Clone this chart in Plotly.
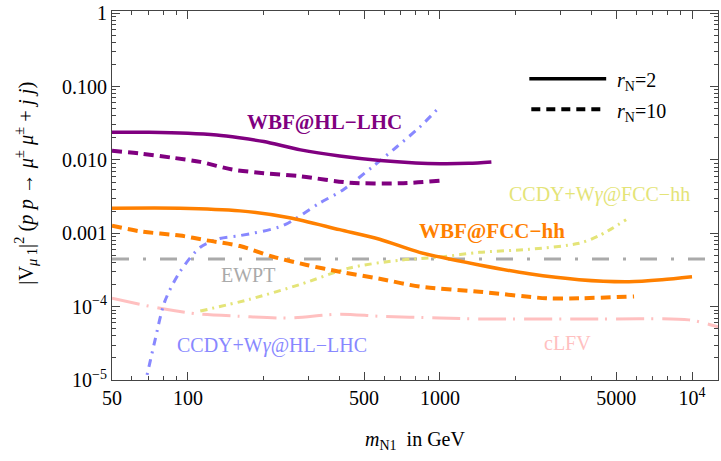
import math
import plotly.graph_objects as go

# --- data -----------------------------------------------------------------
# WBF @ HL-LHC
m_hl_r2 = [50, 70, 100, 130, 160, 200, 280, 400, 580, 800, 1000, 1300, 1600]
v_hl_r2 = [0.0239, 0.0238, 0.0231, 0.0218, 0.0200, 0.0178, 0.0137, 0.0113,
           0.0098, 0.0091, 0.0089, 0.0090, 0.0094]
m_hl_r10 = [50, 65, 87, 112, 150, 200, 278, 438, 692, 1000]
v_hl_r10 = [0.0133, 0.0122, 0.0107, 0.0094, 0.0074, 0.0066, 0.0060, 0.0049,
            0.0048, 0.0052]

# WBF @ FCC-hh
m_fcc_r2 = [50, 93, 161, 253, 400, 576, 830, 1432, 2259, 3565, 5623, 7600, 10000]
v_fcc_r2 = [2.2e-3, 2.2e-3, 2.02e-3, 1.63e-3, 1.12e-3, 8.3e-4, 5.5e-4, 3.7e-4,
            2.8e-4, 2.33e-4, 2.19e-4, 2.33e-4, 2.56e-4]
m_fcc_r10 = [50, 65, 93, 119, 161, 217, 296, 400, 576, 830, 1432, 2642, 3565, 5890]
v_fcc_r10 = [1.27e-3, 1.06e-3, 9.3e-4, 8.0e-4, 6.7e-4, 4.8e-4, 3.7e-4, 2.99e-4,
             2.4e-4, 1.88e-4, 1.6e-4, 1.30e-4, 1.30e-4, 1.38e-4]

# CCDY + W gamma @ HL-LHC
m_ccdy_hl = [66, 68, 71, 74, 81, 93, 112, 134, 161, 238, 333, 411, 541, 673, 830, 1000]
v_ccdy_hl = [7.8e-6, 1.0e-5, 1.85e-5, 3.44e-5, 1.18e-4, 2.99e-4, 6.45e-4, 8.5e-4,
             9.3e-4, 1.27e-3, 2.58e-3, 3.87e-3, 8.1e-3, 0.0150, 0.0279, 0.0534]

# CCDY + W gamma @ FCC-hh
m_ccdy_fcc = [112, 176, 278, 438, 692, 1000, 1432, 2259, 3565, 4285, 5480]
v_ccdy_fcc = [8.7e-5, 1.26e-4, 2.0e-4, 3.37e-4, 4.3e-4, 4.74e-4, 5.5e-4, 6.05e-4,
              7.3e-4, 9.3e-4, 1.53e-3]

# electroweak precision tests
m_ewpt = [50, 13000]
v_ewpt = [4.47e-4, 4.47e-4]

# charged lepton flavour violation
m_clfv = [50, 77.5, 112, 161, 253, 400, 576, 1000, 1432, 4285, 9730, 12680, 13500]
v_clfv = [1.30e-4, 9.5e-5, 7.9e-5, 7.4e-5, 7.0e-5, 7.9e-5, 7.4e-5, 7.0e-5,
          6.8e-5, 6.8e-5, 6.6e-5, 5.3e-5, 5.0e-5]

x_ticks = [50, 100, 500, 1000, 5000, 10000]
x_ticktext = ["50", "100", "500", "1000", "5000", "10<sup>4</sup>"]
y_ticks = [1, 0.1, 0.01, 0.001, 1e-4, 1e-5]
y_ticktext = ["1", "0.100", "0.010", "0.001", "10<sup>\u22124</sup>", "10<sup>\u22125</sup>"]

# --- styles ---------------------------------------------------------------
PURPLE = "rgb(128,0,128)"
ORANGE = "rgb(255,128,0)"
BLUE = "rgb(136,136,255)"
YELLOW = "rgb(228,228,120)"
PINK = "rgb(255,192,192)"
GRAY = "rgb(170,170,170)"
FONT = "Liberation Serif"

fig = go.Figure()


def curve(x, y, color, width, dash):
    fig.add_trace(go.Scatter(
        x=x, y=y, mode="lines",
        line=dict(color=color, width=width, dash=dash, shape="spline", smoothing=0.8),
        showlegend=False, hoverinfo="skip"))


curve(m_clfv, v_clfv, PINK, 3, "28px,7px,2px,9px")
curve(m_ewpt, v_ewpt, GRAY, 3, "17px,14px,3px,14px")
curve(m_ccdy_fcc, v_ccdy_fcc, YELLOW, 3, "7px,5px,2px,5px")
curve(m_ccdy_hl, v_ccdy_hl, BLUE, 3, "8px,6px,2px,6px")
curve(m_fcc_r10, v_fcc_r10, ORANGE, 4, "10px,6px")
curve(m_fcc_r2, v_fcc_r2, ORANGE, 3.5, "solid")
curve(m_hl_r10, v_hl_r10, PURPLE, 4, "10px,6px")
curve(m_hl_r2, v_hl_r2, PURPLE, 3.5, "solid")

# minor tick positions
x_minor = [k * 10 ** d for d in range(1, 5) for k in range(2, 10)
           if 50 <= k * 10 ** d <= 13000 and k * 10 ** d not in x_ticks]
y_minor = [k * 10.0 ** d for d in range(-6, 0) for k in range(2, 10)]

axis_common = dict(
    showgrid=False, zeroline=False, showline=True, linecolor="#444", linewidth=1,
    mirror="allticks", ticks="inside", ticklen=8, tickcolor="#444", tickwidth=1,
    tickfont=dict(family=FONT, size=20, color="black"),
    ticklabeloverflow="allow",
)

fig.update_xaxes(
    type="log", range=[math.log10(50), math.log10(12680)],
    tickmode="array", tickvals=x_ticks, ticktext=x_ticktext,
    minor=dict(tickmode="array", tickvals=x_minor, ticks="inside", ticklen=4,
               tickcolor="#444", showgrid=False),
    **axis_common)
fig.update_yaxes(
    type="log", range=[-5, 0.03],
    tickmode="array", tickvals=y_ticks, ticktext=y_ticktext,
    minor=dict(tickmode="array", tickvals=y_minor, ticks="inside", ticklen=4,
               tickcolor="#444", showgrid=False),
    **axis_common)

# plot-area helpers (pixel -> paper fraction)
L, R, T, B, W, H = 112, 2, 4, 81, 721, 461
PW, PH = W - L - R, H - T - B


def px(x):
    return (x - L) / PW


def py(y):
    return 1 - (y - T) / PH


def label(text, x, y, color, size=20, bold=False, xanchor="center", angle=0):
    fig.add_annotation(
        text=f"<b>{text}</b>" if bold else text,
        x=px(x), y=py(y), xref="paper", yref="paper", showarrow=False,
        xanchor=xanchor, yanchor="middle", textangle=angle,
        font=dict(family=FONT, size=size, color=color))


label("WBF@HL\u2212LHC", 325, 117, PURPLE, 21, True)
label("WBF@FCC\u2212hh", 493, 228, ORANGE, 21, True)
label("CCDY+W<i>\u03b3</i>@FCC\u2212hh", 600, 191, YELLOW, 20)
label("EWPT", 248, 273, GRAY, 20)
label("CCDY+W<i>\u03b3</i>@HL\u2212LHC", 272, 345, BLUE, 20)
label("cLFV", 568, 342, PINK, 20)

# key for the two line styles
fig.add_shape(type="line", xref="paper", yref="paper",
              x0=px(530), x1=px(607), y0=py(73), y1=py(73),
              line=dict(color="black", width=3.5))
fig.add_shape(type="line", xref="paper", yref="paper",
              x0=px(532), x1=px(603), y0=py(104), y1=py(104),
              line=dict(color="black", width=4, dash="9px,6px"))
label("<i>r</i><sub>N</sub>=2", 616, 76, "black", 20, xanchor="left")
label("<i>r</i><sub>N</sub>=10", 616, 107, "black", 20, xanchor="left")

# axis titles
label("<i>m</i><sub>N1</sub>  in GeV", 415, 442, "black", 20)
label("|V<sub><i>\u03bc</i> 1</sub>|<sup>2</sup> (<i>p p</i> \u2192 <i>\u03bc</i><sup>\u00b1</sup> "
      "<i>\u03bc</i><sup>\u00b1</sup> + <i>j j</i>)",
      26, 180, "black", 20.5, angle=-90)

fig.update_layout(
    width=W, height=H, margin=dict(l=L, r=R, t=T, b=B),
    paper_bgcolor="white", plot_bgcolor="white", showlegend=False)

fig.write_html("out.html")
